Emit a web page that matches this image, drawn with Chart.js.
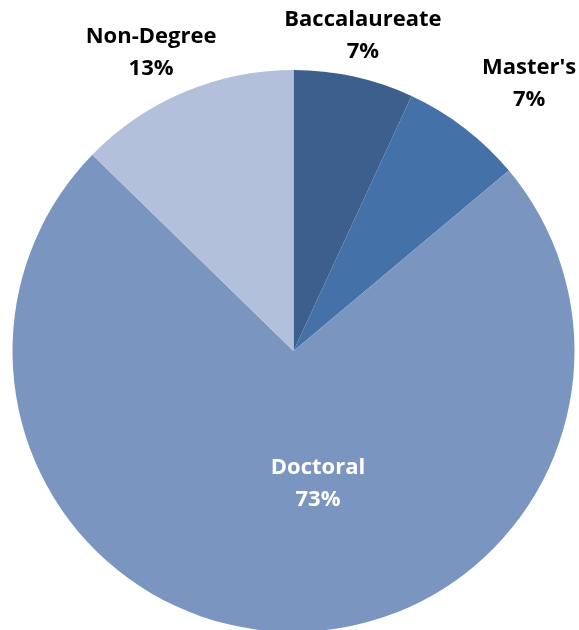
<!DOCTYPE html>
<html>
  <head>
    <script src="https://cdn.jsdelivr.net/npm/chart.js@4.4.1/dist/chart.umd.min.js"></script>
    <style>
      html, body { margin: 0; padding: 0; background: #fff; overflow: hidden; }
      #wrap { position: absolute; left: 0; top: 0; width: 579px; height: 634px; }
    </style>
  </head>
  <body>
    <div id="wrap"><canvas id="pieChart"></canvas></div>
    <script>
      // data (percent of total)
      var categories = ['Baccalaureate', "Master's", 'Doctoral', 'Non-Degree'];
      var shares = [6.9, 7.0, 73.4, 12.7];
      var shareLabels = ['7%', '7%', '73%', '13%'];
      var colors = ['#3D5F8E', '#4472A8', '#7A96C0', '#B3C0DB'];

      // label placement: radius factor, angle nudge (deg), text colour
      var labelStyle = [
        { r: 1.148, da: 0, color: '#000' },
        { r: 1.267, da: 4, color: '#000' },
        { r: 0.481, da: -12.6, color: '#fff' },
        { r: 1.175, da: -2.7, color: '#000' }
      ];

      var sliceLabels = {
        id: 'sliceLabels',
        afterDatasetsDraw: function (chart) {
          var ctx = chart.ctx;
          var arcs = chart.getDatasetMeta(0).data;
          ctx.save();
          ctx.font = 'bold 22px "Open Sans", sans-serif';
          ctx.textAlign = 'center';
          ctx.textBaseline = 'middle';
          arcs.forEach(function (arc, i) {
            var s = labelStyle[i];
            var mid = (arc.startAngle + arc.endAngle) / 2 + s.da * Math.PI / 180;
            var x = arc.x + Math.cos(mid) * arc.outerRadius * s.r;
            var y = arc.y + Math.sin(mid) * arc.outerRadius * s.r;
            ctx.fillStyle = s.color;
            ctx.fillText(categories[i], x, y - 16);
            ctx.fillText(shareLabels[i], x, y + 16);
          });
          ctx.restore();
        }
      };

      var ctx = document.getElementById('pieChart').getContext('2d');
      var chart = new Chart(ctx, {
        type: 'pie',
        data: {
          labels: categories,
          datasets: [{
            data: shares,
            backgroundColor: colors,
            borderWidth: 0
          }]
        },
        options: {
          responsive: true,
          maintainAspectRatio: false,
          animation: false,
          layout: { padding: { top: 70, bottom: 2, left: 12, right: 4 } },
          plugins: {
            legend: { display: false },
            tooltip: { enabled: false }
          }
        },
        plugins: [sliceLabels]
      });
    </script>
  </body>
</html>
